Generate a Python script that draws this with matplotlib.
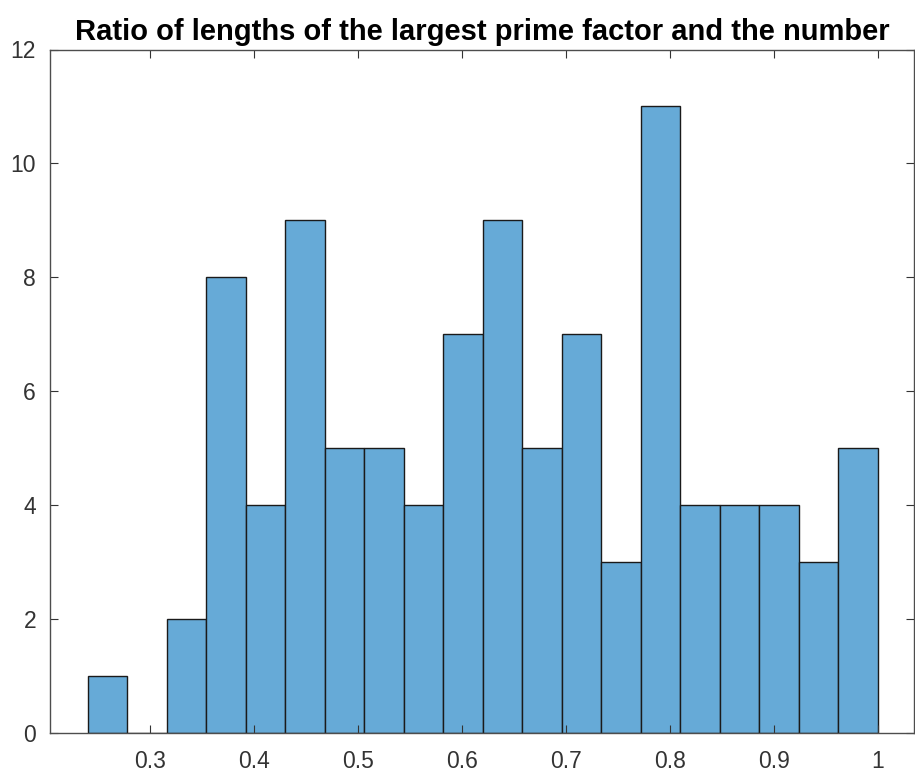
import matplotlib
matplotlib.use("Agg")
import matplotlib.pyplot as plt
import numpy as np

plt.rcParams['font.family'] = ['Liberation Sans', 'DejaVu Sans']

bin_edges = np.linspace(0.24, 1.0, 21)
counts = [1, 0, 2, 8, 4, 9, 5, 5, 4, 7, 9, 5, 7, 3, 11, 4, 4, 4, 3, 5]
xticks = [0.3, 0.4, 0.5, 0.6, 0.7, 0.8, 0.9, 1.0]
xticklabels = ['0.3', '0.4', '0.5', '0.6', '0.7', '0.8', '0.9', '1']
yticks = [0, 2, 4, 6, 8, 10, 12]

fig = plt.figure(figsize=(9.15, 7.75), dpi=100)
ax = fig.add_axes([50/915, 1-733/775, 0.999-50/915, (733-49.5)/775])

ax.hist(bin_edges[:-1], bins=bin_edges, weights=counts,
        color='#66AAD7', edgecolor='#1a1a1a', linewidth=1.0)

ax.set_xlim(0.2035, 1.035)
ax.set_ylim(0, 12)
ax.set_xticks(xticks)
ax.set_xticklabels(xticklabels)
ax.set_yticks(yticks)
gray = '#333333'
ax.tick_params(direction='in', length=6, width=0.8, colors=gray,
               labelsize=16.5, top=True, right=True)
ax.tick_params(axis='x', pad=12)
ax.tick_params(axis='y', pad=10)
for s in ax.spines.values():
    s.set_color('#4d4d4d')
    s.set_linewidth(1.0)

ax.set_title('Ratio of lengths of the largest prime factor and the number',
             fontsize=21, fontweight='bold', color='#000000', pad=7)

fig.savefig('out.png', dpi=100)
